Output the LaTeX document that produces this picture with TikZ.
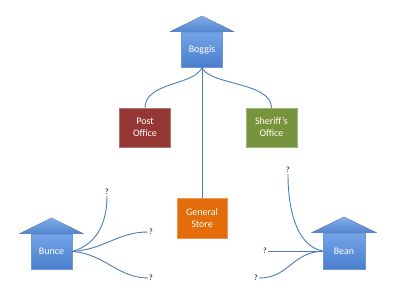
\documentclass[tikz,border=0pt]{standalone}
\usepackage{fontspec}
\setmainfont{Carlito}
\usetikzlibrary{calc}
\definecolor{linkblue}{HTML}{4A7EBB}
\definecolor{housetop}{HTML}{74A4E8}
\definecolor{housebot}{HTML}{4A7ECC}
\definecolor{postred}{HTML}{953735}
\definecolor{sherifgreen}{HTML}{77933C}
\definecolor{storeorange}{HTML}{E46C0A}
\tikzset{
  housebox/.style={rectangle, draw=housebot!80!white, line width=0.4pt, top color=housetop, bottom color=housebot, text=white, font=\fontsize{10}{12}\selectfont, inner sep=0pt, align=center},
  placebox/.style={rectangle, line width=0.5pt, text=white, font=\fontsize{10}{12}\selectfont, inner sep=0pt, align=center, minimum width=51pt, minimum height=39pt},
  qmark/.style={font=\fontsize{8}{9}\selectfont, inner sep=1pt, text=black},
  link/.style={draw=linkblue, line width=0.9pt},
  roof/.style={top color=housetop!90!white, bottom color=housebot!95!white, draw=none}
}
\newcommand{\houseroof}[1]{%
  \fill[roof] ($(#1.north west)+(-11.5,0)$) -- ($(#1.north)+(0,-16)$) -- ($(#1.north east)+(11.5,0)$) -- cycle;}
\begin{document}
\begin{tikzpicture}[x=1pt,y=-1pt]
\useasboundingbox[fill=white] (0,0) rectangle (400,300);
% houses
\node[housebox, minimum width=41pt, minimum height=35pt] (boggis) at (202,49.5) {Boggis};
\houseroof{boggis}
\node[housebox, minimum width=41pt, minimum height=35pt] (bunce) at (51.5,251.5) {Bunce};
\houseroof{bunce}
\node[housebox, minimum width=42pt, minimum height=36pt] (bean) at (344,251) {Bean};
\houseroof{bean}
% places
\node[placebox, fill=postred, draw=postred!70!white] (post) at (145,127.5) {Post\\Office};
\node[placebox, fill=sherifgreen, draw=sherifgreen!70!white] (sheriff) at (271.5,127.5) {Sheriff's\\Office};
\node[placebox, fill=storeorange, draw=storeorange!70!white, minimum width=50pt, minimum height=40pt] (store) at (202,218) {General\\Store};
% question marks
\node[qmark] (q1) at (107,192) {?};
\node[qmark] (q2) at (151,232) {?};
\node[qmark] (q3) at (151,278) {?};
\node[qmark] (q4) at (288,170) {?};
\node[qmark] (q5) at (265,251) {?};
\node[qmark] (q6) at (256,278) {?};
% Boggis links
\draw[link] (boggis.south) .. controls +(-6,18) and +(0,-26) .. (post.north);
\draw[link] (boggis.south) .. controls +(6,18) and +(0,-26) .. (sheriff.north);
\draw[link] (boggis.south) -- (store.north);
% Bunce links
\draw[link] (bunce.east) .. controls +(28,-8) and +(0,22) .. (q1.south);
\draw[link] (bunce.east) .. controls +(32,-2) and +(-30,0) .. (q2.west);
\draw[link] (bunce.east) .. controls +(32,2) and +(-30,0) .. (q3.west);
% Bean links
\draw[link] (bean.west) .. controls +(-22,-4) and +(0,45) .. (q4.south);
\draw[link] (bean.west) -- (q5.east);
\draw[link] (bean.west) .. controls +(-32,2) and +(30,0) .. (q6.east);
\end{tikzpicture}
\end{document}
